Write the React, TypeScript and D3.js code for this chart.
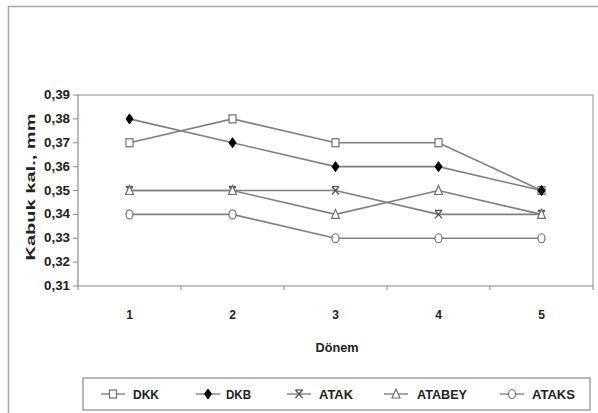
import React from "react";
import * as d3 from "d3";

const categories = ["1", "2", "3", "4", "5"];
const yTicks = [0.31, 0.32, 0.33, 0.34, 0.35, 0.36, 0.37, 0.38, 0.39];
const seriesNames = ["DKK", "DKB", "ATAK", "ATABEY", "ATAKS"];
const dkk = [0.37, 0.38, 0.37, 0.37, 0.35];
const dkb = [0.38, 0.37, 0.36, 0.36, 0.35];
const atak = [0.35, 0.35, 0.35, 0.34, 0.34];
const atabey = [0.35, 0.35, 0.34, 0.35, 0.34];
const ataks = [0.34, 0.34, 0.33, 0.33, 0.33];
const seriesValues = [dkk, dkb, atak, atabey, ataks];
const markers = ["square", "diamond", "x", "triangle", "circle"];

const W = 598;
const H = 413;
const plot = { left: 78, right: 593, top: 95, bottom: 286 };
const FONT = "'Liberation Sans', Arial, sans-serif";
const LINE = "#808080";

function Marker({ type, x, y }: { type: string; x: number; y: number }) {
  const stroke = "#707070";
  if (type === "square")
    return <rect x={x - 3.5} y={y - 4} width={7} height={8} fill="#fff" stroke={stroke} strokeWidth={1.2} />;
  if (type === "diamond")
    return <path d={`M${x},${y - 5}L${x + 3.5},${y}L${x},${y + 5}L${x - 3.5},${y}Z`} fill="#000" stroke="#000" strokeWidth={1} />;
  if (type === "x")
    return (
      <g stroke="#555" strokeWidth={1.3} fill="none">
        <path d={`M${x - 3.5},${y - 4}L${x + 3.5},${y + 4}M${x + 3.5},${y - 4}L${x - 3.5},${y + 4}`} />
        <path d={`M${x - 3.5},${y - 4}H${x + 3.5}`} />
      </g>
    );
  if (type === "triangle")
    return <path d={`M${x},${y - 5}L${x + 4},${y + 4}L${x - 4},${y + 4}Z`} fill="#fff" stroke={stroke} strokeWidth={1.2} />;
  return <ellipse cx={x} cy={y} rx={3.5} ry={4.5} fill="#fff" stroke={stroke} strokeWidth={1.2} />;
}

export default function App() {
  const x = d3.scaleBand<string>().domain(categories).range([plot.left, plot.right]).padding(0);
  const y = d3.scaleLinear().domain([0.31, 0.39]).range([plot.bottom, plot.top]);
  const line = d3
    .line<number>()
    .x((_, i) => (x(categories[i]) as number) + x.bandwidth() / 2)
    .y((d) => y(d));
  const fmt = (v: number) => v.toFixed(2).replace(".", ",");
  const boundaries = d3.range(categories.length + 1).map((i) => plot.left + i * x.bandwidth());

  const legendY = 394;
  const legendItems = [
    { lx: 101, tx: 133, tw: 26 },
    { lx: 196, tx: 226, tw: 25 },
    { lx: 287, tx: 319, tw: 34 },
    { lx: 384, tx: 417, tw: 50 },
    { lx: 500, tx: 532, tw: 43 },
  ];

  return (
    <svg width={W} height={H} style={{ position: "absolute", left: 0, top: 0, background: "#fff" }} fontFamily={FONT}>
      <rect x={8.5} y={6.5} width={620} height={430} fill="#fff" stroke="#a8a8a8" strokeWidth={1.5} />
      {/* plot area border */}
      <path d={`M${plot.left},${plot.top}H${plot.right}V${plot.bottom}`} fill="none" stroke="#b5b5b5" strokeWidth={1.5} />
      {/* axes */}
      <line x1={plot.left} x2={plot.left} y1={plot.top} y2={plot.bottom} stroke="#8a8a8a" strokeWidth={1.2} />
      <line x1={plot.left} x2={plot.right} y1={plot.bottom} y2={plot.bottom} stroke="#8a8a8a" strokeWidth={1.2} />
      {yTicks.map((t) => (
        <g key={t}>
          <line x1={plot.left - 5} x2={plot.left} y1={y(t)} y2={y(t)} stroke="#8a8a8a" />
          <text x={70} y={y(t) + 4} textAnchor="end" fontSize={12} fontWeight="bold" fill="#222" textLength={26} lengthAdjust="spacingAndGlyphs">
            {fmt(t)}
          </text>
        </g>
      ))}
      {boundaries.map((b, i) => (
        <line key={i} x1={b} x2={b} y1={plot.bottom} y2={plot.bottom + 4} stroke="#8a8a8a" />
      ))}
      {categories.map((c) => (
        <text key={c} x={(x(c) as number) + x.bandwidth() / 2} y={319} textAnchor="middle" fontSize={12} fontWeight="bold" fill="#222">
          {c}
        </text>
      ))}
      <text x={337} y={352} textAnchor="middle" fontSize={12.5} fontWeight="bold" fill="#222" textLength={43} lengthAdjust="spacingAndGlyphs">
        Dönem
      </text>
      <text transform="translate(35,187) rotate(-90)" textAnchor="middle" fontSize={12.5} fontWeight="bold" fill="#222" textLength={147} lengthAdjust="spacingAndGlyphs">
        Kabuk kal., mm
      </text>
      {/* series */}
      {seriesValues.map((vals, si) => (
        <path key={si} d={line(vals) || ""} fill="none" stroke={LINE} strokeWidth={1.6} />
      ))}
      {seriesValues.map((vals, si) =>
        vals.map((v, i) => (
          <Marker key={`${si}-${i}`} type={markers[si]} x={(x(categories[i]) as number) + x.bandwidth() / 2} y={y(v)} />
        ))
      )}
      {/* legend */}
      <rect x={83} y={378} width={507} height={32} fill="#fff" stroke="#8a8a8a" strokeWidth={1.2} />
      {legendItems.map((it, i) => (
        <g key={i}>
          <line x1={it.lx} x2={it.lx + 24} y1={legendY} y2={legendY} stroke={LINE} strokeWidth={1.4} />
          <Marker type={markers[i]} x={it.lx + 12} y={legendY} />
          <text x={it.tx} y={legendY + 4.5} fontSize={12.5} fontWeight="bold" fill="#222" textLength={it.tw} lengthAdjust="spacingAndGlyphs">
            {seriesNames[i]}
          </text>
        </g>
      ))}
    </svg>
  );
}
